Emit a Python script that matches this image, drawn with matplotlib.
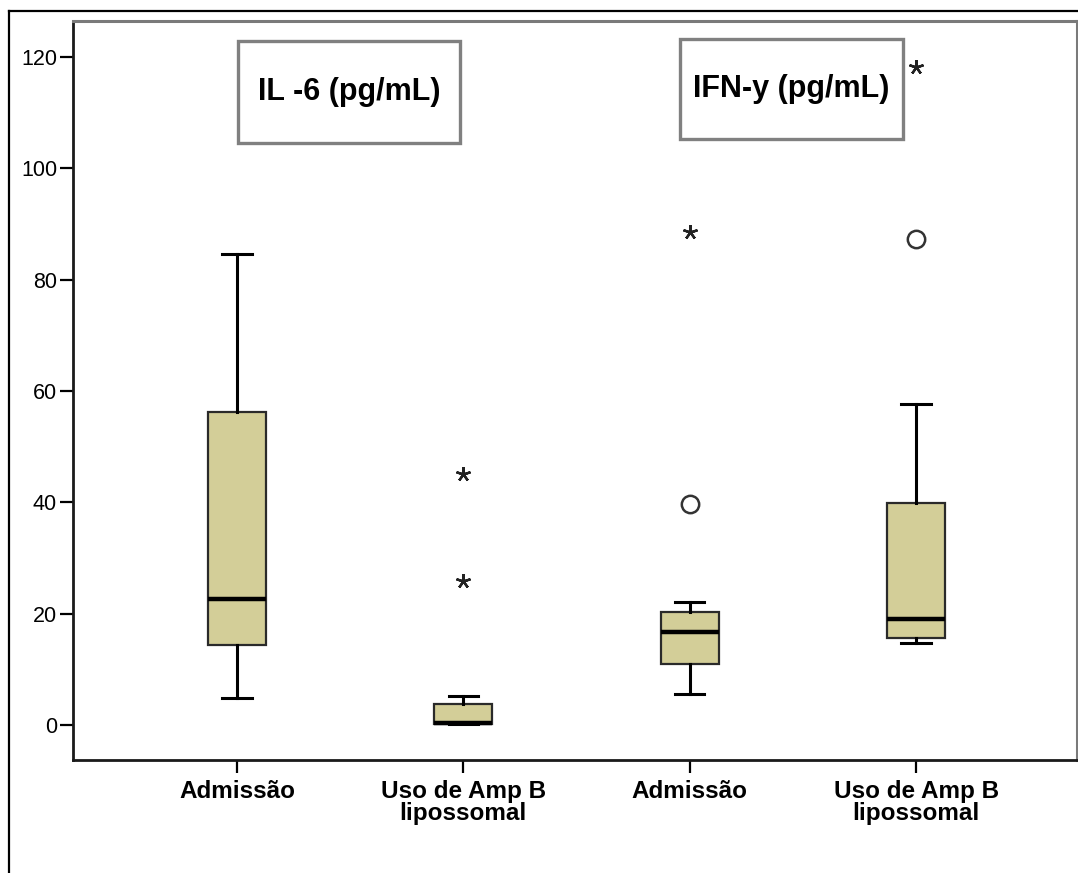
import matplotlib
matplotlib.use("Agg")
import matplotlib.pyplot as plt
from matplotlib.patches import Rectangle
from matplotlib.lines import Line2D

plt.rcParams['font.family'] = ['Liberation Sans', 'DejaVu Sans']

# ---- data ----
categories = ["Admissão", "Uso de Amp B\nlipossomal", "Admissão", "Uso de Amp B\nlipossomal"]
q1 = [14.4, 0.15, 11.0, 15.6]
median = [22.6, 0.3, 16.7, 19.0]
q3 = [56.2, 3.8, 20.3, 39.9]
whisker_low = [4.85, 0.15, 5.6, 14.7]
whisker_high = [84.6, 5.2, 22.1, 57.7]
outliers_circle = [[], [], [39.7], [87.3]]
outliers_star = [[], [45.1, 25.9], [88.6], [118.2]]
panel_titles = ["IL -6 (pg/mL)", "IFN-y (pg/mL)"]
yticks = [0, 20, 40, 60, 80, 100, 120]

fig = plt.figure(figsize=(10.78, 8.73), dpi=100)
ax = fig.add_axes([73/1078, 1-760/873, (1077-73)/1078, (760-21)/873])

positions = [1, 2, 3, 4]
stats = []
for i in range(4):
    stats.append(dict(med=median[i], q1=q1[i], q3=q3[i], whislo=whisker_low[i],
                      whishi=whisker_high[i], fliers=[], label=categories[i]))

ax.bxp(stats, positions=positions, widths=0.256, capwidths=0.13, patch_artist=True,
       showfliers=False,
       boxprops=dict(facecolor='#D3CE98', edgecolor='#2a2a2a', linewidth=1.6),
       medianprops=dict(color='black', linewidth=3.2, solid_capstyle='butt'),
       whiskerprops=dict(color='black', linewidth=2.2),
       capprops=dict(color='black', linewidth=2.2))

for p, vals in zip(positions, outliers_circle):
    if vals:
        ax.plot([p]*len(vals), vals, linestyle='none', marker='o', markersize=12.5,
                markerfacecolor='white', markeredgecolor='#333333', markeredgewidth=1.8, zorder=5)
for p, vals in zip(positions, outliers_star):
    if vals:
        ax.plot([p]*len(vals), vals, linestyle='none', marker=(5, 2, 0), markersize=10.5,
                color='#222222', markeredgewidth=1.7, zorder=5)

ax.set_xlim(0.2754, 4.711)
ax.set_ylim(-6.29, 126.5)
ax.set_yticks(yticks)
ax.set_yticklabels([str(v) for v in yticks], fontsize=15.5)
ax.set_xticks(positions)
ax.set_xticklabels(categories, fontsize=17.5, fontweight='bold', linespacing=0.95)
ax.tick_params(axis='y', length=9.5, width=1.6, pad=2, colors='black')
ax.tick_params(axis='x', length=9.5, width=1.6, pad=5, colors='black')

for s in ['left', 'bottom']:
    ax.spines[s].set_color('#1a1a1a')
    ax.spines[s].set_linewidth(2)
for s in ['top', 'right']:
    ax.spines[s].set_color('#7a7a7a')
    ax.spines[s].set_linewidth(2.2)

# panel title boxes
box_specs = [((238-73)/1004, (760-143)/739, 222/1004, 102/739),
             ((680-73)/1004, (760-139)/739, 223/1004, 100/739)]
for (x0, y0, w, h), title in zip(box_specs, panel_titles):
    ax.add_patch(Rectangle((x0, y0), w, h, transform=ax.transAxes, facecolor='white',
                           edgecolor='#808080', linewidth=2.4, zorder=4))
    ax.text(x0 + w/2, y0 + h/2, title, transform=ax.transAxes, ha='center', va='center',
            fontsize=22, fontweight='bold', color='black', zorder=6)

# outer frame (left and top edges)
fig.add_artist(Line2D([9/1078, 9/1078], [0, 1-11/873], transform=fig.transFigure, color='black', linewidth=1.6))
fig.add_artist(Line2D([9/1078, 1], [1-11/873, 1-11/873], transform=fig.transFigure, color='black', linewidth=1.6))

fig.savefig("out.png", dpi=100)
